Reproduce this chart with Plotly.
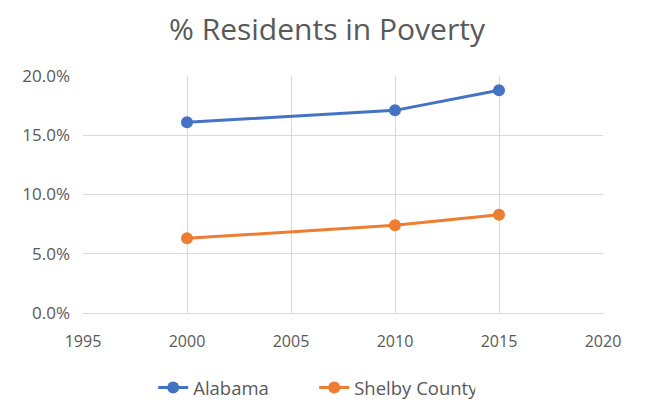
import plotly.graph_objects as go

years = [2000, 2010, 2015]
alabama = [0.161, 0.171, 0.188]
shelby = [0.063, 0.074, 0.083]
x_ticks = [1995, 2000, 2005, 2010, 2015, 2020]
y_ticks = [0.0, 0.05, 0.10, 0.15, 0.20]

FONT = "Open Sans"
GREY = "#595959"

fig = go.Figure()
fig.add_trace(go.Scatter(x=years, y=alabama, name="Alabama", mode="lines+markers",
                         line=dict(color="#4472C4", width=3),
                         marker=dict(size=12, color="#4472C4")))
fig.add_trace(go.Scatter(x=years, y=shelby, name="Shelby County", mode="lines+markers",
                         line=dict(color="#ED7D31", width=3),
                         marker=dict(size=12, color="#ED7D31")))

fig.update_layout(
    width=638, height=394,
    margin=dict(l=75, r=43, t=68, b=89, autoexpand=False),
    paper_bgcolor="white", plot_bgcolor="white",
    font=dict(family=FONT, color=GREY, size=16),
    title=dict(text="% Residents in Poverty", x=0.5, xanchor="center",
               y=0.945, yanchor="middle", font=dict(size=30, color=GREY, family=FONT)),
    legend=dict(orientation="h", x=0.135, xanchor="left", y=-0.316, yanchor="middle",
                font=dict(size=18.5, color=GREY), entrywidth=116, entrywidthmode="pixels"),
    showlegend=True,
)
fig.update_xaxes(range=[1995, 2020], tickvals=x_ticks, ticktext=[str(v) for v in x_ticks],
                 showgrid=True, gridcolor="#d9d9d9", gridwidth=1,
                 showline=True, linecolor="#d9d9d9", linewidth=1, zeroline=False,
                 ticks="", ticklen=0, ticklabelstandoff=14, tickfont=dict(size=16))
fig.update_yaxes(range=[0, 0.20], tickvals=y_ticks, tickformat=".1%",
                 showgrid=True, gridcolor="#d9d9d9", gridwidth=1,
                 showline=False, zeroline=False, ticks="", ticklen=0, ticklabelstandoff=12,
                 tickfont=dict(size=17))

fig.write_html("out.html")
